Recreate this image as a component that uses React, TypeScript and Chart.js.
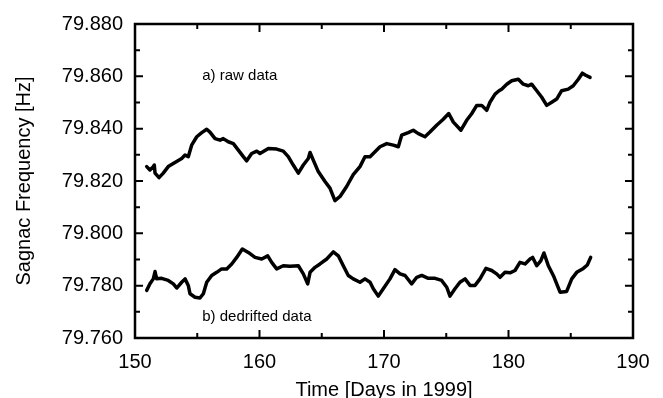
import React, { useEffect, useRef } from 'react';
import { Chart, registerables } from 'chart.js';

Chart.register(...registerables);

const FONT = '"Liberation Sans", Arial, Helvetica, sans-serif';

const rawDays = [
  150.94, 151.20, 151.47, 151.55, 151.61, 151.93, 152.27, 152.67, 153.21, 153.75,
  154.02, 154.28, 154.55, 154.96, 155.36, 155.76, 156.02, 156.43, 156.83, 157.09,
  157.49, 157.90, 158.30, 158.70, 158.97, 159.37, 159.78, 160.04, 160.71, 161.38,
  161.91, 162.31, 162.71, 163.12, 163.52, 163.92, 164.06, 164.32, 164.72, 165.26,
  165.66, 166.06, 166.47, 167.00, 167.53, 168.07, 168.47, 168.88, 169.28, 169.68,
  170.22, 170.75, 171.15, 171.42, 171.95, 172.35, 172.76, 173.29, 173.69, 174.23,
  174.76, 175.20, 175.57, 176.18, 176.64, 177.04, 177.45, 177.85, 178.25, 178.51,
  178.92, 179.24, 179.45, 179.86, 180.26, 180.79, 181.19, 181.59, 181.86, 182.27,
  182.67, 183.07, 183.47, 183.87, 184.27, 184.80, 185.20, 185.61, 185.93, 186.20,
  186.55,
];
const rawValues = [
  79.8255, 79.8242, 79.8255, 79.8261, 79.8230, 79.8213, 79.8230, 79.8255, 79.8271, 79.8286,
  79.8299, 79.8293, 79.8337, 79.8369, 79.8385, 79.8398, 79.8387, 79.8362, 79.8356, 79.8362,
  79.8350, 79.8343, 79.8318, 79.8293, 79.8277, 79.8305, 79.8314, 79.8305, 79.8324, 79.8322,
  79.8314, 79.8293, 79.8261, 79.8230, 79.8261, 79.8286, 79.8309, 79.8280, 79.8236, 79.8198,
  79.8173, 79.8125, 79.8141, 79.8179, 79.8224, 79.8255, 79.8293, 79.8293, 79.8312, 79.8331,
  79.8343, 79.8337, 79.8331, 79.8375, 79.8385, 79.8394, 79.8381, 79.8369, 79.8387, 79.8413,
  79.8436, 79.8458, 79.8425, 79.8394, 79.8432, 79.8457, 79.8489, 79.8489, 79.8470, 79.8501,
  79.8532, 79.8545, 79.8551, 79.8570, 79.8583, 79.8589, 79.8570, 79.8564, 79.8570, 79.8545,
  79.8520, 79.8489, 79.8501, 79.8513, 79.8545, 79.8551, 79.8564, 79.8589, 79.8612, 79.8604,
  79.8596,
];

const dedriftedDays = [
  150.94, 151.20, 151.47, 151.61, 151.74, 152.14, 152.67, 153.08, 153.35, 153.75,
  154.02, 154.28, 154.42, 154.82, 155.22, 155.49, 155.76, 156.16, 156.56, 156.96,
  157.37, 157.77, 158.17, 158.62, 159.10, 159.64, 160.18, 160.66, 160.98, 161.38,
  161.91, 162.45, 163.12, 163.52, 163.87, 164.06, 164.46, 164.86, 165.40, 165.93,
  166.33, 166.73, 167.13, 167.53, 168.07, 168.47, 168.88, 169.14, 169.54, 169.94,
  170.48, 170.88, 171.29, 171.69, 172.22, 172.63, 173.03, 173.56, 174.10, 174.63,
  175.04, 175.30, 175.70, 176.10, 176.51, 176.91, 177.31, 177.71, 178.19, 178.65,
  179.05, 179.32, 179.72, 180.12, 180.52, 180.92, 181.33, 181.73, 181.94, 182.27,
  182.59, 182.85, 183.20, 183.60, 184.14, 184.67, 185.08, 185.48, 186.01, 186.33,
  186.60,
];
const dedriftedValues = [
  79.7782, 79.7807, 79.7826, 79.7854, 79.7826, 79.7828, 79.7820, 79.7807, 79.7791, 79.7813,
  79.7826, 79.7801, 79.7769, 79.7756, 79.7753, 79.7769, 79.7813, 79.7839, 79.7851, 79.7864,
  79.7864, 79.7883, 79.7908, 79.7940, 79.7927, 79.7908, 79.7902, 79.7914, 79.7889, 79.7864,
  79.7876, 79.7874, 79.7876, 79.7845, 79.7807, 79.7851, 79.7870, 79.7883, 79.7902, 79.7929,
  79.7914, 79.7876, 79.7839, 79.7826, 79.7813, 79.7826, 79.7813, 79.7788, 79.7760, 79.7788,
  79.7826, 79.7861, 79.7845, 79.7839, 79.7807, 79.7832, 79.7839, 79.7828, 79.7828, 79.7820,
  79.7794, 79.7760, 79.7788, 79.7813, 79.7826, 79.7801, 79.7801, 79.7826, 79.7866, 79.7858,
  79.7845, 79.7832, 79.7851, 79.7849, 79.7858, 79.7889, 79.7883, 79.7902, 79.7908, 79.7876,
  79.7895, 79.7925, 79.7876, 79.7839, 79.7775, 79.7778, 79.7826, 79.7851, 79.7866, 79.7879,
  79.7908,
];

const seriesLabels = ['a) raw data', 'b) dedrifted data'];
const xAxisTitle = 'Time [Days in 1999]';
const yAxisTitle = 'Sagnac Frequency [Hz]';

const framePlugin = {
  id: 'frameAndTicks',
  afterDraw(chart: any) {
    const { ctx, chartArea: a, scales } = chart;
    const xs = scales.x;
    const ys = scales.y;
    ctx.save();
    ctx.strokeStyle = '#000';
    ctx.lineWidth = 2;
    ctx.beginPath();
    xs.ticks.forEach((t: any) => {
      const px = xs.getPixelForValue(t.value);
      const len = Math.round(t.value) % 10 === 0 ? 8 : 5;
      ctx.moveTo(px, a.bottom);
      ctx.lineTo(px, a.bottom - len);
      ctx.moveTo(px, a.top);
      ctx.lineTo(px, a.top + len);
    });
    ys.ticks.forEach((t: any) => {
      const py = ys.getPixelForValue(t.value);
      const len = Math.round(t.value * 100) % 2 === 0 ? 8 : 5;
      ctx.moveTo(a.left, py);
      ctx.lineTo(a.left + len, py);
      ctx.moveTo(a.right, py);
      ctx.lineTo(a.right - len, py);
    });
    ctx.stroke();
    ctx.lineWidth = 2.5;
    ctx.strokeRect(a.left, a.top, a.right - a.left, a.bottom - a.top);

    ctx.fillStyle = '#000';
    ctx.font = `15px ${FONT}`;
    ctx.textAlign = 'left';
    ctx.textBaseline = 'middle';
    ctx.fillText(seriesLabels[0], xs.getPixelForValue(155.4), ys.getPixelForValue(79.86));
    ctx.fillText(seriesLabels[1], xs.getPixelForValue(155.4), ys.getPixelForValue(79.768));
    ctx.restore();
  },
};

export default function App() {
  const ref = useRef<HTMLCanvasElement | null>(null);

  useEffect(() => {
    if (!ref.current) return;
    const toPoints = (xs: number[], ys: number[]) => xs.map((x, i) => ({ x, y: ys[i] }));
    const chart = new Chart(ref.current, {
      type: 'line',
      data: {
        datasets: [
          {
            label: seriesLabels[0],
            data: toPoints(rawDays, rawValues),
            borderColor: '#000',
            borderWidth: 3.5,
            pointRadius: 0,
            tension: 0,
            borderJoinStyle: 'round',
            borderCapStyle: 'round',
          },
          {
            label: seriesLabels[1],
            data: toPoints(dedriftedDays, dedriftedValues),
            borderColor: '#000',
            borderWidth: 3.5,
            pointRadius: 0,
            tension: 0,
            borderJoinStyle: 'round',
            borderCapStyle: 'round',
          },
        ],
      },
      options: {
        animation: false,
        responsive: false,
        maintainAspectRatio: false,
        layout: { padding: { left: 0, top: 21, right: 30, bottom: 0 } },
        plugins: { legend: { display: false }, tooltip: { enabled: false } },
        scales: {
          x: {
            type: 'linear',
            min: 150,
            max: 190,
            grid: { display: false, drawTicks: false },
            border: { display: false },
            ticks: {
              stepSize: 5,
              autoSkip: false,
              maxRotation: 0,
              padding: 12,
              color: '#000',
              font: { family: FONT, size: 20 },
              callback: (v: any) => (Math.round(Number(v)) % 10 === 0 ? String(Math.round(Number(v))) : ''),
            },
            title: {
              display: true,
              text: xAxisTitle,
              color: '#000',
              font: { family: FONT, size: 20 },
              padding: { top: 0, bottom: 8 },
            },
            afterFit: (s: any) => {
              s.height = 72;
            },
          },
          y: {
            type: 'linear',
            min: 79.76,
            max: 79.88,
            grid: { display: false, drawTicks: false },
            border: { display: false },
            ticks: {
              stepSize: 0.01,
              autoSkip: false,
              padding: 12,
              color: '#000',
              font: { family: FONT, size: 20 },
              callback: (v: any) => (Math.round(Number(v) * 100) % 2 === 0 ? Number(v).toFixed(3) : ''),
            },
            title: {
              display: true,
              text: yAxisTitle,
              color: '#000',
              font: { family: FONT, size: 20 },
              padding: { top: 12, bottom: 0 },
            },
            afterFit: (s: any) => {
              s.width = 135;
            },
          },
        },
      },
      plugins: [framePlugin],
    });
    return () => chart.destroy();
  }, []);

  return (
    <div style={{ position: 'fixed', left: 0, top: 0, width: 663, height: 410, background: '#fff' }}>
      <canvas ref={ref} width={663} height={410} style={{ display: 'block', width: 663, height: 410 }} />
    </div>
  );
}
